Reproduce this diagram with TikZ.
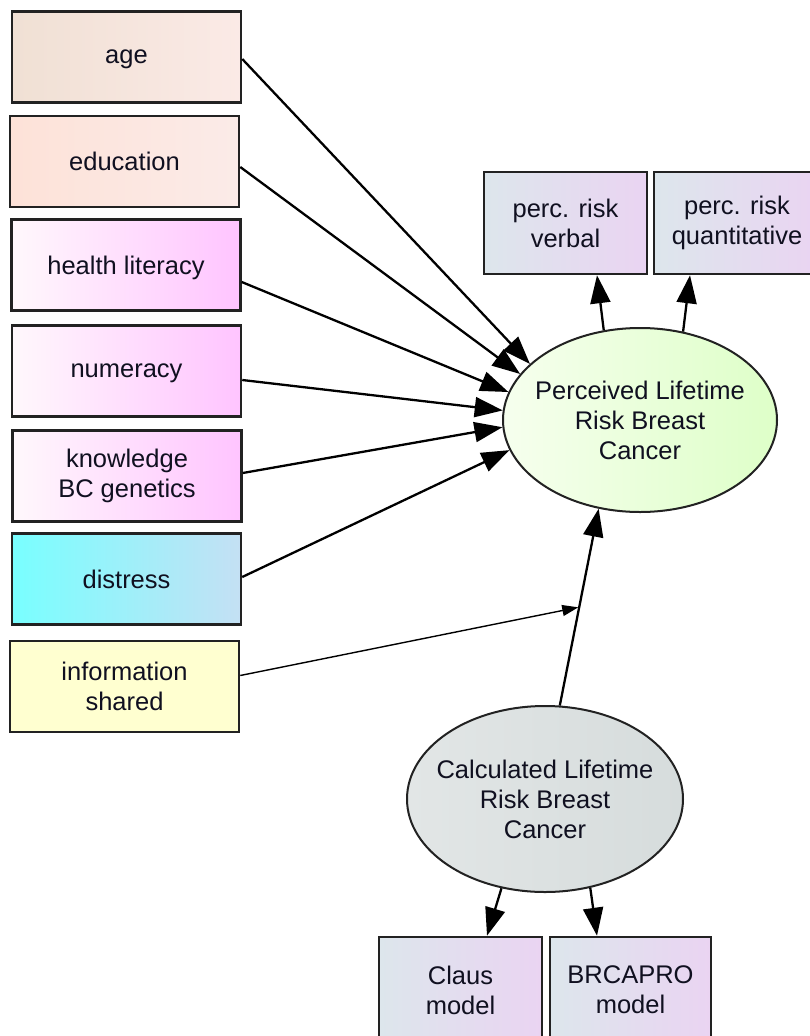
\documentclass[tikz,border=0pt]{standalone}
\usepackage{fontspec}
\setmainfont{Liberation Sans}
\usetikzlibrary{arrows.meta,shapes.geometric}
\definecolor{txt}{HTML}{101020}
\definecolor{bord}{HTML}{222222}
\newcommand{\elltext}[1]{\makebox[100pt]{\raisebox{-3pt}[\height][\depth]{\begin{tabular}{@{}c@{}}#1\end{tabular}}}}
\tikzset{
  box/.style={draw=bord, line width=2.5pt, rectangle, minimum width=229pt, minimum height=91pt,
    align=center, inner sep=2pt, text=txt, font=\fontsize{25.5}{30}\selectfont},
  onel/.style={text depth=0pt},
  sbox/.style={box, minimum height=102pt, left color=smallL, right color=smallR},
  ell/.style={draw=bord, line width=2pt, ellipse, inner sep=0pt, text=txt,
    font=\fontsize{25.5}{30}\selectfont},
  arr/.style={draw=black, line width=2.3pt, -{Triangle[length=28pt,width=20pt]}},
  thinarr/.style={draw=black, line width=1.4pt, -{Triangle[length=16pt,width=11pt]}},
  agefill/.style={left color=ageL, right color=ageR},
  edufill/.style={left color=eduL, right color=eduR},
  pinkfill/.style={left color=pinkL, right color=pinkR},
  distfill/.style={left color=distL, right color=distR},
}
\definecolor{ageL}{HTML}{F0E0D4}
\definecolor{ageR}{HTML}{FBEAE6}
\definecolor{eduL}{HTML}{FDE2D8}
\definecolor{eduR}{HTML}{FBEBE8}
\definecolor{pinkL}{HTML}{FFF8FC}
\definecolor{pinkR}{HTML}{FFC4FF}
\definecolor{distL}{HTML}{78FFFF}
\definecolor{distR}{HTML}{C4E0F4}
\definecolor{infoC}{HTML}{FFFFD0}
\definecolor{smallL}{HTML}{DDE6EC}
\definecolor{smallR}{HTML}{EAD4F2}
\definecolor{perL}{HTML}{F6FFEE}
\definecolor{perR}{HTML}{DEFFC8}
\definecolor{calL}{HTML}{E2E6E6}
\definecolor{calR}{HTML}{D6DCDC}
\begin{document}
\begin{tikzpicture}[x=1pt,y=-1pt]
\useasboundingbox (0,0) rectangle (810,1036);
\clip (0,0) rectangle (810,1036);
\fill[white] (0,0) rectangle (810,1036);
% left boxes
\node[box, onel, agefill] (age) at (126.5,57) {age};
\node[box, edufill] (edu) at (124.5,161.5) {education};
\node[box, onel, pinkfill] (hl) at (126,265) {health literacy};
\node[box, onel, pinkfill] (num) at (126.5,371) {numeracy};
\node[box, pinkfill] (know) at (127,476) {knowledge\\BC genetics};
\node[box, distfill] (dist) at (126.5,579) {distress};
\node[box, fill=infoC] (info) at (124.5,686.5) {information\\shared};
% ellipses
\node[ell, left color=perL, right color=perR, minimum width=274pt, minimum height=184pt] (per) at (640,420) {\elltext{Perceived Lifetime\\Risk Breast\\Cancer}};
\node[ell, left color=calL, right color=calR, minimum width=276pt, minimum height=186pt] (calc) at (545,799) {\elltext{Calculated Lifetime\\Risk Breast\\Cancer}};
% indicator boxes
\node[sbox, minimum width=163pt] (verb) at (565.5,223) {perc. risk\\verbal};
\node[sbox, minimum width=166pt] (quant) at (737,223) {perc. risk\\quantitative};
\node[sbox, minimum width=163pt, minimum height=106pt] (claus) at (460.5,990) {Claus\\model};
\node[sbox, minimum width=161pt, minimum height=106pt] (brca) at (630.5,990) {BRCAPRO\\model};
% arrows into perceived
\draw[arr] ([yshift=-2pt]age.east) -- (per.153);
\draw[arr] ([yshift=-5.5pt]edu.east) -- (per.159);
\draw[arr] ([yshift=-17pt]hl.east) -- (per.168);
\draw[arr] ([yshift=-9pt]num.east) -- (per.176);
\draw[arr] ([yshift=3pt]know.east) -- (per.183);
\draw[arr] ([yshift=2pt]dist.east) -- (per.193);
\draw[arr] (calc.81) -- coordinate[pos=0.5] (mid) (per.245.8);
\draw[thinarr, shorten >=1pt] ([yshift=11pt]info.east) -- (mid);
% indicators
\draw[arr] (per.112) -- ([xshift=31.5pt]verb.south);
\draw[arr] (per.64.5) -- ([xshift=-47pt]quant.south);
\draw[arr] (calc.244.7) -- ([xshift=26.5pt]claus.north);
\draw[arr] (calc.297.6) -- ([xshift=-33.5pt]brca.north);
\end{tikzpicture}
\end{document}
